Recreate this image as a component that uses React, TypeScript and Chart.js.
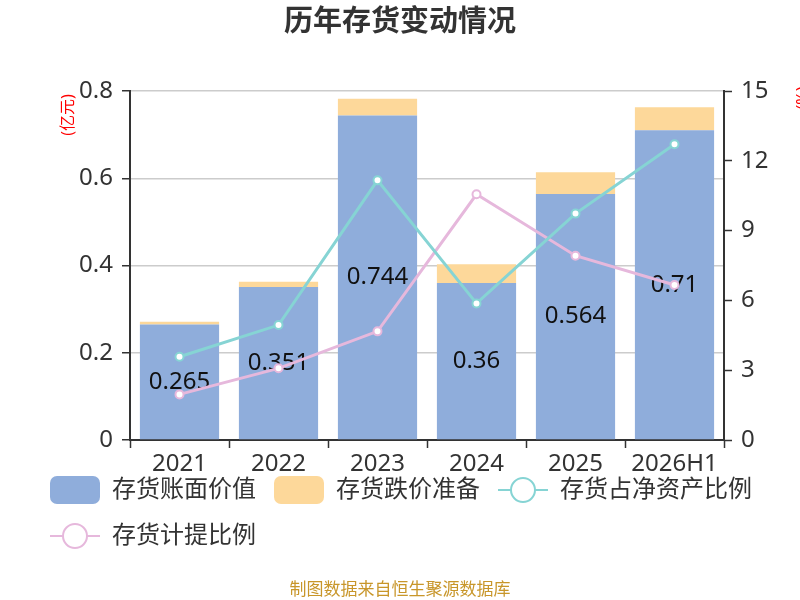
import React, { useEffect, useRef } from 'react';
import { Chart, registerables } from 'chart.js';

Chart.register(...registerables);

const categories = ['2021', '2022', '2023', '2024', '2025', '2026H1'];
const bookValue = [0.265, 0.351, 0.744, 0.36, 0.564, 0.71];
const impairment = [0.006, 0.012, 0.038, 0.043, 0.05, 0.053];
const netAssetRatio = [3.58, 4.94, 11.16, 5.87, 9.73, 12.71];
const provisionRatio = [1.96, 3.08, 4.67, 10.56, 7.92, 6.66];
const leftTicks = [0, 0.2, 0.4, 0.6, 0.8];
const rightTicks = [0, 3, 6, 9, 12, 15];

const FONT = '"Noto Sans", "Noto Sans CJK SC", sans-serif';
const BLUE = '#8faddb';
const ORANGE = '#fdd89a';
const TEAL = '#86d4d4';
const PINK = '#e6b8dc';

// title, footer, unit labels, bar value labels and the line-style legend icons
const decorPlugin = {
  id: 'decor',
  afterLayout(chart: any) {
    // x axis is squeezed so the legend sits close; let its labels spill below
    const x = chart.scales.x;
    if (x) x.bottom = x.top + 45;
  },
  afterDatasetDraw(chart: any, args: any) {
    if (args.index !== 0) return;
    const { ctx } = chart;
    ctx.save();
    ctx.font = `24px ${FONT}`;
    ctx.fillStyle = '#111';
    ctx.textAlign = 'center';
    ctx.textBaseline = 'middle';
    args.meta.data.forEach((bar: any, i: number) => {
      const y = (bar.y + bar.base) / 2;
      ctx.fillText(String(bookValue[i]), bar.x, y);
    });
    ctx.restore();
  },
  afterDraw(chart: any) {
    const { ctx } = chart;
    ctx.save();
    ctx.fillStyle = '#333';
    ctx.font = `bold 29px ${FONT}`;
    ctx.textAlign = 'center';
    ctx.textBaseline = 'middle';
    ctx.fillText('历年存货变动情况', 400, 23);

    ctx.fillStyle = '#c8962a';
    ctx.font = `17px ${FONT}`;
    ctx.fillText('制图数据来自恒生聚源数据库', 400, 590);

    ctx.fillStyle = '#ff0000';
    ctx.font = `16px ${FONT}`;
    ctx.translate(68, 115);
    ctx.rotate(-Math.PI / 2);
    ctx.fillText('(亿元)', 0, 0);
    ctx.restore();

    ctx.save();
    ctx.fillStyle = '#ff0000';
    ctx.font = `16px ${FONT}`;
    ctx.textAlign = 'center';
    ctx.textBaseline = 'middle';
    ctx.translate(803, 98);
    ctx.rotate(-Math.PI / 2);
    ctx.fillText('(%)', 0, 0);
    ctx.restore();

    const legend = chart.legend;
    if (!legend || !legend.legendHitBoxes) return;
    legend.legendItems.forEach((item: any, i: number) => {
      const ds = chart.data.datasets[item.datasetIndex];
      if (ds.type !== 'line') return;
      const hb = legend.legendHitBoxes[i];
      const cy = hb.top + 14;
      ctx.save();
      ctx.strokeStyle = ds.borderColor;
      ctx.lineWidth = 2;
      ctx.beginPath();
      ctx.moveTo(hb.left, cy);
      ctx.lineTo(hb.left + 50, cy);
      ctx.stroke();
      ctx.beginPath();
      ctx.arc(hb.left + 25, cy, 12, 0, Math.PI * 2);
      ctx.fillStyle = '#fff';
      ctx.fill();
      ctx.stroke();
      ctx.restore();
    });
  },
};

export default function App() {
  const canvasRef = useRef<HTMLCanvasElement | null>(null);

  useEffect(() => {
    document.body.style.margin = '0';
    if (!canvasRef.current) return;
    const chart = new Chart(canvasRef.current, {
      type: 'bar',
      data: {
        labels: categories,
        datasets: [
          {
            type: 'bar',
            label: '存货账面价值',
            data: bookValue,
            backgroundColor: BLUE,
            yAxisID: 'y',
            stack: 's',
            order: 1,
            barPercentage: 0.8,
            categoryPercentage: 1,
          },
          {
            type: 'bar',
            label: '存货跌价准备',
            data: impairment,
            backgroundColor: ORANGE,
            yAxisID: 'y',
            stack: 's',
            order: 1,
            barPercentage: 0.8,
            categoryPercentage: 1,
          },
          {
            type: 'line',
            label: '存货占净资产比例',
            data: netAssetRatio,
            borderColor: TEAL,
            backgroundColor: '#fff',
            borderWidth: 3,
            pointRadius: 4,
            pointBorderWidth: 2,
            pointBackgroundColor: '#fff',
            pointBorderColor: TEAL,
            yAxisID: 'y1',
            order: 0,
          },
          {
            type: 'line',
            label: '存货计提比例',
            data: provisionRatio,
            borderColor: PINK,
            backgroundColor: '#fff',
            borderWidth: 3,
            pointRadius: 4,
            pointBorderWidth: 2,
            pointBackgroundColor: '#fff',
            pointBorderColor: PINK,
            yAxisID: 'y1',
            order: 0,
          },
        ] as any,
      },
      options: {
        animation: false,
        responsive: true,
        maintainAspectRatio: false,
        layout: { padding: { top: 91, left: 32, right: 0, bottom: 40 } },
        plugins: {
          title: { display: false },
          tooltip: { enabled: false },
          legend: {
            position: 'bottom',
            align: 'start',
            labels: {
              font: { size: 24, family: FONT },
              color: '#333',
              boxWidth: 50,
              boxHeight: 28,
              padding: 18,
              useBorderRadius: true,
              sort: (a: any, b: any) => a.datasetIndex - b.datasetIndex,
              generateLabels: (c: any) => {
                const items = Chart.defaults.plugins.legend.labels.generateLabels(c);
                return items.map((it: any) => {
                  const ds = c.data.datasets[it.datasetIndex];
                  if (ds.type === 'line') {
                    return { ...it, fillStyle: 'rgba(0,0,0,0)', strokeStyle: 'rgba(0,0,0,0)', lineWidth: 0, fontColor: '#333' };
                  }
                  return { ...it, lineWidth: 0, borderRadius: 7, fontColor: '#333' };
                });
              },
            },
          },
        },
        scales: {
          x: {
            stacked: true,
            grid: {
              offset: true,
              drawOnChartArea: false,
              tickLength: 8,
              tickColor: '#333',
              tickWidth: 1.5,
            },
            border: { color: '#333', width: 2 },
            ticks: { font: { size: 24, family: FONT }, color: '#333', padding: 2, maxRotation: 0 },
            afterFit: (s: any) => { s.height = 18; },
          },
          y: {
            stacked: true,
            position: 'left',
            min: 0,
            max: 0.8,
            afterBuildTicks: (s: any) => { s.ticks = leftTicks.map((v) => ({ value: v })); },
            grid: { color: '#cccccc', lineWidth: 1.5, tickLength: 8, tickColor: '#333', tickWidth: 1.5 },
            border: { color: '#333', width: 2 },
            ticks: {
              font: { size: 24, family: FONT },
              color: '#333',
              padding: 9,
              callback: (v: any) => String(Number(v)),
            },
            afterFit: (s: any) => { s.width = 98; },
          },
          y1: {
            position: 'right',
            min: 0,
            max: 15,
            afterBuildTicks: (s: any) => { s.ticks = rightTicks.map((v) => ({ value: v })); },
            grid: { drawOnChartArea: false, tickLength: 8, tickColor: '#333', tickWidth: 1.5 },
            border: { color: '#333', width: 2 },
            ticks: { font: { size: 24, family: FONT }, color: '#333', padding: 9 },
            afterFit: (s: any) => { s.width = 76; },
          },
        },
      } as any,
      plugins: [decorPlugin],
    });
    return () => chart.destroy();
  }, []);

  return (
    <div style={{ position: 'absolute', left: 0, top: 0, width: 800, height: 600 }}>
      <canvas ref={canvasRef} />
    </div>
  );
}
